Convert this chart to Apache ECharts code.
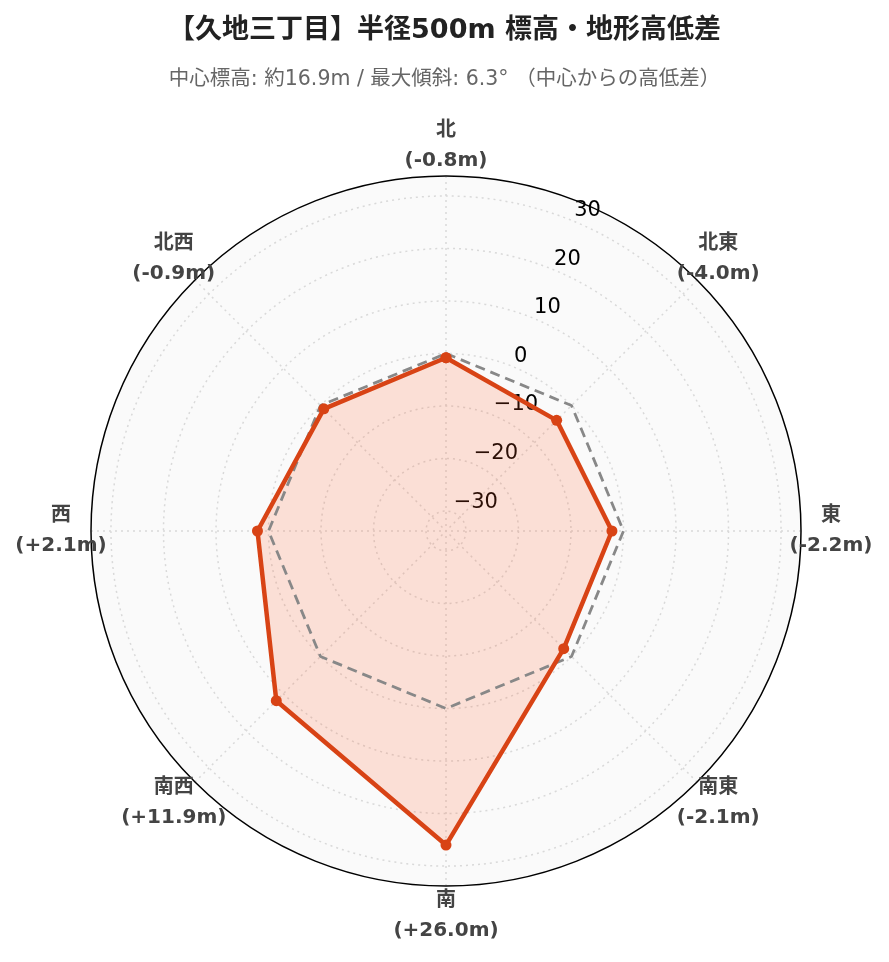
<!DOCTYPE html>
<html>
<head>
<meta charset="utf-8">
<script src="https://cdn.jsdelivr.net/npm/echarts@6/dist/echarts.min.js"></script>
<style>
  html, body { margin: 0; padding: 0; background: #fff; }
  #chart { width: 889px; height: 962px; }
</style>
</head>
<body>
<div id="chart"></div>
<script>
// 方位ごとの中心からの高低差 (m)
var directions = ['北', '北東', '東', '南東', '南', '南西', '西', '北西'];
var bearings = [0, 45, 90, 135, 180, 225, 270, 315];
var diffs = [-0.8, -4.0, -2.2, -2.1, 26.0, 11.9, 2.1, -0.9];
var baseline = [0, 0, 0, 0, 0, 0, 0, 0];
var radialTicks = [-30, -20, -10, 0, 10, 20, 30];

var titleText = '【久地三丁目】半径500m 標高・地形高低差';
var subText = '中心標高: 約16.9m / 最大傾斜: 6.3° （中心からの高低差）';

var FONT = '"DejaVu Sans", "Noto Sans CJK JP", sans-serif';
var CENTER = [446, 531];
var RADIUS = 355;
var LABEL_GAP = 30;

// 半径方向の範囲は最大高低差の1.3倍
var maxAbs = Math.max.apply(null, diffs.map(Math.abs));
var rMax = Math.round(maxAbs * 1.3 * 10) / 10;

// 折れ線を閉じるため先頭を360度で再度追加
function closeLoop(vals) {
  var pts = vals.map(function (v, i) { return [v, bearings[i]]; });
  pts.push([vals[0], 360]);
  return pts;
}

function fmtDiff(v) {
  return '(' + (v > 0 ? '+' : '') + v.toFixed(1) + 'm)';
}

var dirLabels = directions.map(function (d, i) {
  var a = bearings[i] * Math.PI / 180;
  return {
    value: [rMax, bearings[i]],
    name: d,
    label: {
      formatter: d + '\n' + fmtDiff(diffs[i]),
      offset: [LABEL_GAP * Math.sin(a), -LABEL_GAP * Math.cos(a)]
    }
  };
});

var gridLine = { color: '#d9d9d9', type: [2, 4], width: 1.5 };

var chart = echarts.init(document.getElementById('chart'));
chart.setOption({
  animation: false,
  backgroundColor: '#fff',
  title: [
    {
      text: titleText, left: 'center', top: 12,
      textStyle: { fontFamily: FONT, fontSize: 27, fontWeight: 'bold', color: '#222' }
    },
    {
      text: subText, left: 'center', top: 64,
      textStyle: { fontFamily: FONT, fontSize: 20.5, fontWeight: 'normal', color: '#666' }
    }
  ],
  polar: [
    { center: CENTER, radius: RADIUS },
    { center: CENTER, radius: RADIUS }
  ],
  angleAxis: [
    {
      polarIndex: 0, type: 'value', min: 0, max: 360, interval: 45,
      startAngle: 90, clockwise: true,
      axisLine: { show: true, lineStyle: { color: '#000', width: 1.5 } },
      axisTick: { show: false },
      axisLabel: { show: false },
      splitLine: { show: true, lineStyle: gridLine }
    },
    // 目盛りラベル用（67.5度方向）
    {
      polarIndex: 1, type: 'value', min: 0, max: 360,
      startAngle: 67.5, clockwise: true, show: false
    }
  ],
  radiusAxis: [
    {
      polarIndex: 0, type: 'value', min: -rMax, max: rMax,
      axisLine: { show: false },
      axisTick: { show: false, customValues: radialTicks },
      axisLabel: { show: false },
      splitLine: { show: true, lineStyle: gridLine }
    },
    {
      polarIndex: 1, type: 'value', min: -rMax, max: rMax,
      axisLine: { show: false },
      axisTick: { show: false },
      splitLine: { show: false },
      axisLabel: {
        customValues: radialTicks,
        formatter: function (v) { return String(v).replace('-', '\u2212'); },
        margin: 0, align: 'left', verticalAlign: 'bottom',
        fontFamily: FONT, fontSize: 21, color: '#000'
      }
    }
  ],
  series: [
    {
      // 背景の円
      type: 'pie', center: CENTER, radius: [0, RADIUS], z: -1, silent: true,
      label: { show: false }, labelLine: { show: false },
      itemStyle: { color: '#fafafa' },
      data: [{ value: 1 }]
    },
    {
      // 塗りつぶしのみ
      type: 'line', coordinateSystem: 'polar', polarIndex: 0,
      data: closeLoop(diffs), symbol: 'none', silent: true, z: 1,
      lineStyle: { width: 0, opacity: 0 },
      areaStyle: { color: 'rgba(255,87,34,0.17)', opacity: 1, origin: 'start' }
    },
    {
      type: 'line', coordinateSystem: 'polar', polarIndex: 0,
      data: closeLoop(baseline), symbol: 'none', silent: true, z: 2,
      lineStyle: { color: '#888', width: 2.8, type: [10, 6] }
    },
    {
      type: 'line', coordinateSystem: 'polar', polarIndex: 0,
      data: closeLoop(diffs), symbol: 'circle', symbolSize: 11, z: 3,
      lineStyle: { color: '#D84315', width: 4.5 },
      itemStyle: { color: '#D84315' }
    },
    {
      type: 'scatter', coordinateSystem: 'polar', polarIndex: 0,
      data: dirLabels, symbolSize: 1, clip: false, silent: true, z: 4,
      itemStyle: { color: 'rgba(0,0,0,0)', opacity: 1 },
      label: {
        show: true, position: 'inside',
        fontFamily: FONT, fontSize: 20, fontWeight: 'bold', color: '#444',
        lineHeight: 30, align: 'center', verticalAlign: 'middle'
      }
    }
  ]
});
</script>
</body>
</html>
